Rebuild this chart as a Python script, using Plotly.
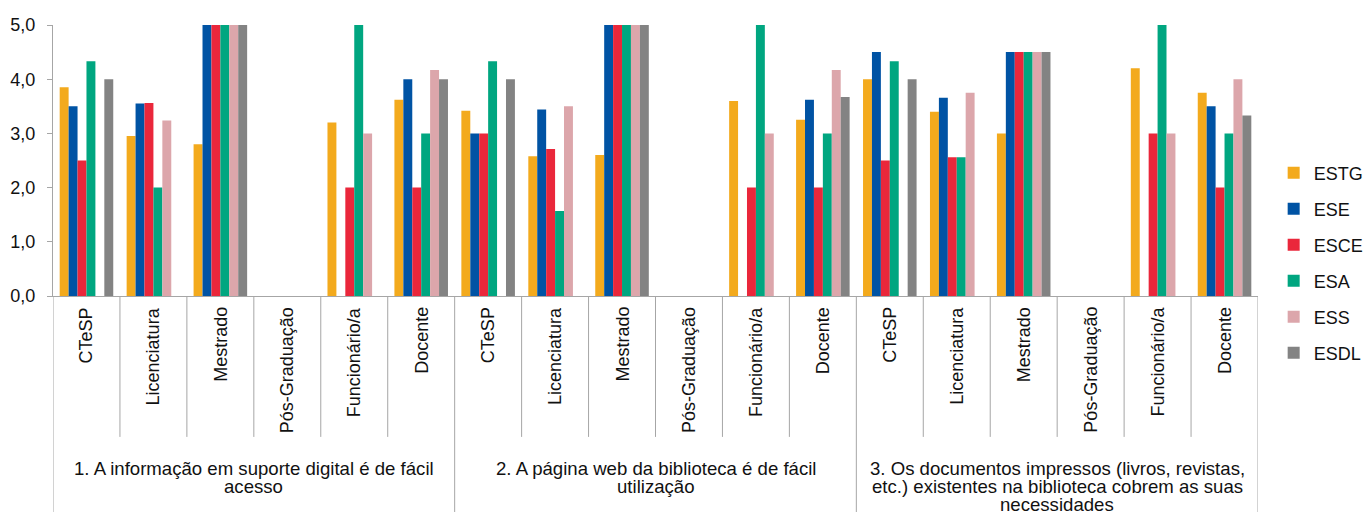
import plotly.graph_objects as go

# Survey statements (outer groups) and respondent categories (inner groups)
groups = [
    ["1. A informação em suporte digital é de fácil", "acesso"],
    ["2. A página web da biblioteca é de fácil", "utilização"],
    ["3. Os documentos impressos (livros, revistas,",
     "etc.) existentes na biblioteca cobrem as suas", "necessidades"],
]
subcategories = ["CTeSP", "Licenciatura", "Mestrado", "Pós-Graduação",
                 "Funcionário/a", "Docente"]

# Mean scores per school, in order: group 1 (6 categories), group 2, group 3
ESTG = [3.85, 2.95, 2.8, None, 3.2, 3.62,
        3.42, 2.58, 2.6, None, 3.6, 3.25,
        4.0, 3.4, 3.0, None, 4.2, 3.75]
ESE = [3.5, 3.55, 5.0, None, None, 4.0,
       3.0, 3.44, 5.0, None, None, 3.62,
       4.5, 3.66, 4.5, None, None, 3.5]
ESCE = [2.5, 3.56, 5.0, None, 2.0, 2.0,
        3.0, 2.71, 5.0, None, 2.0, 2.0,
        2.5, 2.56, 4.5, None, 3.0, 2.0]
ESA = [4.33, 2.0, 5.0, None, 5.0, 3.0,
       4.33, 1.57, 5.0, None, 5.0, 3.0,
       4.33, 2.56, 4.5, None, 5.0, 3.0]
ESS = [None, 3.24, 5.0, None, 3.0, 4.17,
       None, 3.5, 5.0, None, 3.0, 4.17,
       None, 3.75, 4.5, None, 3.0, 4.0]
ESDL = [4.0, None, 5.0, None, None, 4.0,
        4.0, None, 5.0, None, None, 3.67,
        4.0, None, 4.5, None, None, 3.33]

series = [
    ("ESTG", ESTG, "#F3AA1D"),
    ("ESE", ESE, "#0053A4"),
    ("ESCE", ESCE, "#EA273B"),
    ("ESA", ESA, "#00A680"),
    ("ESS", ESS, "#DCA6AB"),
    ("ESDL", ESDL, "#838383"),
]

y_ticks = [0, 1, 2, 3, 4, 5]

FONT = "Liberation Sans, Arial, sans-serif"
TEXT = "#111111"
GRID = "#a6a6a6"

n_sub = len(subcategories)
n_cat = n_sub * len(groups)
xpos = list(range(n_cat))

fig = go.Figure()
for i, (name, vals, color) in enumerate(series):
    fig.add_trace(go.Bar(
        x=xpos, y=vals, name=name, legendgroup=name,
        marker=dict(color=color, line=dict(width=0)),
    ))

shapes = []
annotations = []

# Vertical separators below the axis: short between categories, long between groups
for b in range(n_cat + 1):
    is_group_edge = b % n_sub == 0
    shapes.append(dict(
        type="line", xref="x", yref="paper",
        x0=b - 0.5, x1=b - 0.5, y0=0, y1=-0.797 if is_group_edge else -0.52,
        line=dict(color=GRID, width=1),
    ))

# Rotated inner category labels
for k in range(n_cat):
    annotations.append(dict(
        x=k, y=0, xref="x", yref="paper", text=subcategories[k % n_sub],
        textangle=-90, showarrow=False, xanchor="center", yanchor="top",
        yshift=-9, font=dict(family=FONT, size=18, color=TEXT),
    ))

# Outer group labels, one annotation per text line (tight line spacing)
for g, lines in enumerate(groups):
    center = g * n_sub + (n_sub - 1) / 2
    for j, line in enumerate(lines):
        annotations.append(dict(
            x=center, y=0, xref="x", yref="paper", text=line,
            showarrow=False, xanchor="center", yanchor="middle",
            yshift=-(172 + 18 * j), font=dict(family=FONT, size=18.6, color=TEXT),
        ))

fig.update_layout(
    width=1365, height=512,
    margin=dict(l=53, r=107, t=25, b=216, autoexpand=False),
    paper_bgcolor="white", plot_bgcolor="white",
    separators=",.",
    barmode="group", bargap=0.2, bargroupgap=0,
    font=dict(family=FONT, size=18, color=TEXT),
    xaxis=dict(
        range=[-0.5, n_cat - 0.5], showticklabels=False, ticks="",
        showgrid=False, zeroline=False, showline=True,
        linecolor=GRID, linewidth=1,
    ),
    yaxis=dict(
        range=[0, 5], tickvals=y_ticks, tickformat=".1f",
        showgrid=False, zeroline=False, showline=True,
        linecolor=GRID, linewidth=1, ticks="outside", ticklen=5,
        tickcolor=GRID, ticklabelstandoff=8,
        tickfont=dict(family=FONT, size=18, color=TEXT),
    ),
    legend=dict(
        x=1.013, xanchor="left", y=0.122, yanchor="middle",
        font=dict(family=FONT, size=18, color=TEXT),
        tracegroupgap=9.6, bgcolor="rgba(0,0,0,0)",
    ),
    shapes=shapes, annotations=annotations,
)

fig.write_html("out.html")
